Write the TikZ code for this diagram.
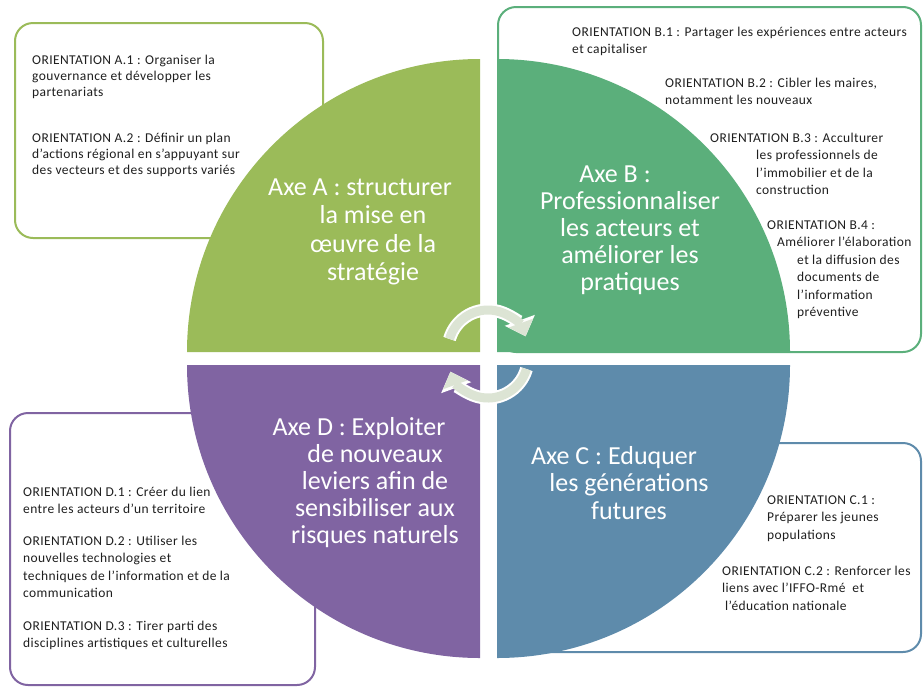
\documentclass[tikz,border=0pt]{standalone}
\usepackage{fontspec}
\setmainfont{Carlito}
\newfontfamily\orientfont[LetterSpace=3]{Carlito}
\usepackage{tikz}
\usetikzlibrary{arrows.meta,positioning}

\definecolor{axeA}{HTML}{9BBB59}
\definecolor{axeB}{HTML}{5BAF7B}
\definecolor{axeC}{HTML}{5E8BAB}
\definecolor{axeD}{HTML}{8064A2}
\definecolor{cycleGrey}{HTML}{DCE4D4}
\definecolor{orientText}{HTML}{1F1F1F}

\begin{document}
\begin{tikzpicture}[x=1pt,y=-1pt,  % screen coordinates, 1px = 1pt, nodes sit on their last baseline
		orient box/.style={draw=#1, line width=2pt, rounded corners=18pt, fill=white},
		orient/.style={anchor=base west, align=left, inner sep=0pt, text=orientText,
			font=\orientfont\fontsize{13.5}{#1}\selectfont},
		axe/.style={anchor=base, align=center, inner sep=0pt, text=white,
			font=\fontsize{26}{#1}\selectfont},
		cycle back/.style={white, line width=13pt, -{Triangle[length=17pt,width=31pt]}},
		cycle front/.style={cycleGrey, line width=9pt, -{Triangle[length=14pt,width=25pt]}}
	]
		\useasboundingbox (0,0) rectangle (923,689);

		% boxes of the orientations
		\draw[orient box=axeA] (15,23) rectangle (323,238);
		\draw[orient box=axeB] (498,7) rectangle (921,352);
		\draw[orient box=axeC] (512,443) rectangle (921,652);
		\draw[orient box=axeD] (10,413) rectangle (315,685);

		% the four quarters
		\fill[axeA] (480,352) -- ++(-293,0) arc[start angle=180, end angle=270, radius=293] -- cycle;
		\fill[axeB] (497,352) -- ++(0,-293) arc[start angle=270, end angle=360, radius=293] -- cycle;
		\fill[axeC] (497,365) -- ++(293,0) arc[start angle=0, end angle=90, radius=293] -- cycle;
		\fill[axeD] (480,365) -- ++(0,293) arc[start angle=90, end angle=180, radius=293] -- cycle;

		% turning arrows
		\draw[cycle back] (488,350) ++(196:40) arc[start angle=196, end angle=340, radius=40];
		\draw[cycle front] (488,350) ++(196:40) arc[start angle=196, end angle=340, radius=40];
		\draw[cycle back] (488,358) ++(16:40) arc[start angle=16, end angle=160, radius=40];
		\draw[cycle front] (488,358) ++(16:40) arc[start angle=16, end angle=160, radius=40];

		\node[axe=28.5] (axeTextA) at (373,280.5) {Axe A : structurer\hspace*{26pt}\\la mise en\\œuvre de la\\stratégie};
		\node[axe=27] (axeTextB) at (630,290) {Axe B :\hspace*{30pt}\\Professionnaliser\\les acteurs et\\améliorer les\\pratiques};
		\node[axe=27.5] (axeTextC) at (629,519) {Axe C : Eduquer\hspace*{30pt}\\les générations\\futures};
		\node[axe=27] (axeTextD) at (375,543) {Axe D : Exploiter\hspace*{32pt}\\de nouveaux\\leviers afin de\\sensibiliser aux\\risques naturels};

		\node[orient=16] (orA1) at (32,96) {ORIENTATION A.1 : Organiser la\\gouvernance et développer les\\partenariats};
		\node[orient=16] (orA2) at (32,174) {ORIENTATION A.2 : Définir un plan\\d’actions régional en s’appuyant sur\\des vecteurs et des supports variés};

		\node[orient=17.5] (orB1) at (572,53.5) {ORIENTATION B.1 : Partager les expériences entre acteurs\\et capitaliser};
		\node[orient=17.5] (orB2) at (665,104.5) {ORIENTATION B.2 : Cibler les maires,\\notamment les nouveaux};
		\node[orient=17.5] (orB3) at (710,194.5) {ORIENTATION B.3 : Acculturer\\\hspace*{46pt}les professionnels de\\\hspace*{46pt}l’immobilier et de la\\\hspace*{46pt}construction};
		\node[orient=17.5] (orB4) at (767,316.5) {ORIENTATION B.4 :\\\hspace*{10pt}Améliorer l’élaboration\\\hspace*{30pt}et la diffusion des\\\hspace*{30pt}documents de\\\hspace*{30pt}l’information\\\hspace*{30pt}préventive};

		\node[orient=17.5] (orC1) at (767,539) {ORIENTATION C.1 :\\Préparer les jeunes\\populations};
		\node[orient=17.5] (orC2) at (722,610) {ORIENTATION C.2 : Renforcer les\\liens avec l’IFFO-Rmé~ et\\\hspace*{3pt}l’éducation nationale};

		\node[orient=17.5] (orD1) at (23,513.5) {ORIENTATION D.1 : Créer du lien\\entre les acteurs d’un territoire};
		\node[orient=17.5] (orD2) at (23,597.5) {ORIENTATION D.2 : Utiliser les\\nouvelles technologies et\\techniques de l’information et de la\\communication};
		\node[orient=17] (orD3) at (23,647) {ORIENTATION D.3 : Tirer parti des\\disciplines artistiques et culturelles};
\end{tikzpicture}
\end{document}
